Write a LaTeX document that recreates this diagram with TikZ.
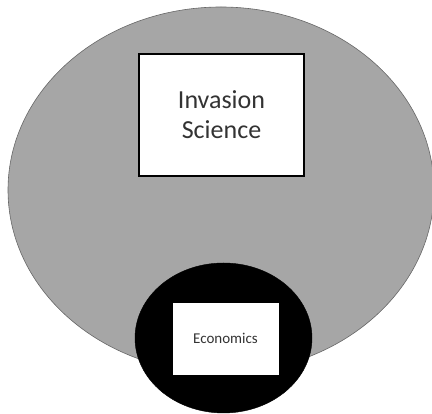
\documentclass[tikz,border=0pt]{standalone}
\usepackage{fontspec}
\setmainfont{Carlito}
\usetikzlibrary{shapes.geometric}
\definecolor{fieldgray}{HTML}{A6A6A6}
\definecolor{labelgray}{HTML}{333333}
\tikzset{
  field/.style={ellipse, draw=black!60, line width=0.6pt, fill=fieldgray, inner sep=0pt},
  core/.style={ellipse, draw=black, fill=black, inner sep=0pt},
  labelbox/.style={rectangle, draw=black, line width=1.2pt, fill=white, inner sep=0pt,
                   text=labelgray, align=center}
}
\begin{document}
\begin{tikzpicture}[x=1pt,y=1pt]
  \useasboundingbox (0,0) rectangle (432,414);
  % outer discipline
  \node[field, minimum width=426pt, minimum height=366pt] (invfield) at (221,224) {};
  % embedded discipline
  \node[core, minimum width=177pt, minimum height=150pt] (econfield) at (223.5,76) {};
  % labels
  \node[labelbox, minimum width=165pt, minimum height=122pt, font=\fontsize{26}{30}\selectfont]
    (invlabel) at (221.5,299) {Invasion\\Science};
  \node[labelbox, minimum width=107pt, minimum height=73pt, line width=0.8pt,
        font=\fontsize{15}{17}\selectfont] (econlabel) at (225.5,75.5) {Economics};
\end{tikzpicture}
\end{document}
